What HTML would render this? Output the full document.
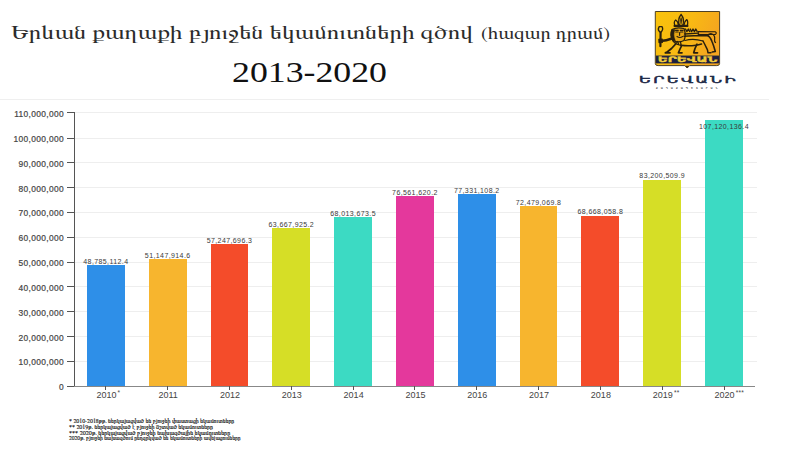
<!DOCTYPE html>
<html><head><meta charset="utf-8"><title>Երևան բյուջե 2013-2020</title>
<style>
html,body{margin:0;padding:0;background:#fff;width:786px;height:458px;overflow:hidden}
body{position:relative;font-family:"Liberation Sans",Arial,sans-serif;color:#333}
.a{position:absolute;white-space:nowrap}
.t{font-family:"FreeSerif","DejaVu Serif",serif;color:#2b2b2b;transform-origin:0 0}
.g{position:absolute;height:1px;background:#eeeeee}
.yl{position:absolute;right:0;width:60px;text-align:right;font-size:8.4px;color:#444;line-height:10px;letter-spacing:.35px;-webkit-text-stroke:.2px #444}
.tk{position:absolute;background:#555}
.bar{position:absolute}
.vl{position:absolute;width:80px;text-align:center;font-size:7px;color:#3a3a3a;line-height:8px;letter-spacing:.4px}
.xl{position:absolute;width:60px;text-align:center;font-size:9px;color:#444;line-height:10px}
.xl sup{font-size:6.5px;position:absolute;top:0px;line-height:6px;margin-left:1.2px;letter-spacing:.3px}
.fn{position:absolute;left:68.5px;font-size:6px;line-height:7px;color:#111;-webkit-text-stroke:.15px #111;white-space:nowrap;font-family:"FreeSerif","DejaVu Serif",serif;transform-origin:0 0}
</style></head><body>

<div class="a t" id="t1" style="left:10.8px;top:22.5px;font-size:18.5px;line-height:22px;transform:scaleX(1.345)">Երևան քաղաքի բյուջեն եկամուտների գծով</div>
<div class="a t" id="t2" style="left:481.1px;top:25.3px;font-size:16.5px;line-height:18px;transform:scaleX(1.235)">(հազար դրամ)</div>
<div class="a" id="t3" style="left:232.2px;top:57px;font-family:'Liberation Serif',serif;font-size:28.5px;line-height:32px;color:#111;transform-origin:0 0;transform:scaleX(1.255)">2013-2020</div>
<div class="g" style="left:0;top:99px;width:769px;background:#efefef"></div>
<div class="tk" style="left:67.4px;top:385.80px;width:7px;height:1px"></div>
<div class="yl" style="left:4px;top:382.30px">0</div>
<div class="g" style="left:74.2px;top:360.97px;width:682.8px"></div>
<div class="tk" style="left:67.4px;top:360.97px;width:7px;height:1px"></div>
<div class="yl" style="left:4px;top:357.47px">10,000,000</div>
<div class="g" style="left:74.2px;top:336.14px;width:682.8px"></div>
<div class="tk" style="left:67.4px;top:336.14px;width:7px;height:1px"></div>
<div class="yl" style="left:4px;top:332.64px">20,000,000</div>
<div class="g" style="left:74.2px;top:311.31px;width:682.8px"></div>
<div class="tk" style="left:67.4px;top:311.31px;width:7px;height:1px"></div>
<div class="yl" style="left:4px;top:307.81px">30,000,000</div>
<div class="g" style="left:74.2px;top:286.48px;width:682.8px"></div>
<div class="tk" style="left:67.4px;top:286.48px;width:7px;height:1px"></div>
<div class="yl" style="left:4px;top:282.98px">40,000,000</div>
<div class="g" style="left:74.2px;top:261.65px;width:682.8px"></div>
<div class="tk" style="left:67.4px;top:261.65px;width:7px;height:1px"></div>
<div class="yl" style="left:4px;top:258.15px">50,000,000</div>
<div class="g" style="left:74.2px;top:236.82px;width:682.8px"></div>
<div class="tk" style="left:67.4px;top:236.82px;width:7px;height:1px"></div>
<div class="yl" style="left:4px;top:233.32px">60,000,000</div>
<div class="g" style="left:74.2px;top:211.99px;width:682.8px"></div>
<div class="tk" style="left:67.4px;top:211.99px;width:7px;height:1px"></div>
<div class="yl" style="left:4px;top:208.49px">70,000,000</div>
<div class="g" style="left:74.2px;top:187.16px;width:682.8px"></div>
<div class="tk" style="left:67.4px;top:187.16px;width:7px;height:1px"></div>
<div class="yl" style="left:4px;top:183.66px">80,000,000</div>
<div class="g" style="left:74.2px;top:162.33px;width:682.8px"></div>
<div class="tk" style="left:67.4px;top:162.33px;width:7px;height:1px"></div>
<div class="yl" style="left:4px;top:158.83px">90,000,000</div>
<div class="g" style="left:74.2px;top:137.50px;width:682.8px"></div>
<div class="tk" style="left:67.4px;top:137.50px;width:7px;height:1px"></div>
<div class="yl" style="left:4px;top:134.00px">100,000,000</div>
<div class="g" style="left:74.2px;top:112.10px;width:682.8px"></div>
<div class="tk" style="left:67.4px;top:112.10px;width:7px;height:1px"></div>
<div class="yl" style="left:4px;top:108.60px">110,000,000</div>
<div class="tk" style="left:73.7px;top:112.1px;width:1px;height:274.7px"></div>
<div class="tk" style="left:74.2px;top:385.80px;width:680.5px;height:1px;background:#888"></div>
<div class="bar" style="left:87.00px;top:265.17px;width:37.8px;height:121.13px;background:#2e8fe8"></div>
<div class="vl" style="left:65.90px;top:257.67px">48,785,112.4</div>
<div class="tk" style="left:105.40px;top:386.30px;width:1px;height:4px"></div>
<div class="xl" style="left:76.40px;top:389.60px">2010<sup>*</sup></div>
<div class="bar" style="left:148.81px;top:259.30px;width:37.8px;height:127.00px;background:#f7b52e"></div>
<div class="vl" style="left:127.71px;top:251.80px">51,147,914.6</div>
<div class="tk" style="left:167.21px;top:386.30px;width:1px;height:4px"></div>
<div class="xl" style="left:138.21px;top:389.60px">2011</div>
<div class="bar" style="left:210.62px;top:244.15px;width:37.8px;height:142.15px;background:#f44c2a"></div>
<div class="vl" style="left:189.52px;top:236.65px">57,247,696.3</div>
<div class="tk" style="left:229.02px;top:386.30px;width:1px;height:4px"></div>
<div class="xl" style="left:200.02px;top:389.60px">2012</div>
<div class="bar" style="left:272.43px;top:228.21px;width:37.8px;height:158.09px;background:#d6de26"></div>
<div class="vl" style="left:251.33px;top:220.71px">63,667,925.2</div>
<div class="tk" style="left:290.83px;top:386.30px;width:1px;height:4px"></div>
<div class="xl" style="left:261.83px;top:389.60px">2013</div>
<div class="bar" style="left:334.24px;top:217.42px;width:37.8px;height:168.88px;background:#3cdac3"></div>
<div class="vl" style="left:313.14px;top:209.92px">68,013,673.5</div>
<div class="tk" style="left:352.64px;top:386.30px;width:1px;height:4px"></div>
<div class="xl" style="left:323.64px;top:389.60px">2014</div>
<div class="bar" style="left:396.05px;top:196.20px;width:37.8px;height:190.10px;background:#e4389c"></div>
<div class="vl" style="left:374.95px;top:188.70px">76,561,620.2</div>
<div class="tk" style="left:414.45px;top:386.30px;width:1px;height:4px"></div>
<div class="xl" style="left:385.45px;top:389.60px">2015</div>
<div class="bar" style="left:457.86px;top:194.29px;width:37.8px;height:192.01px;background:#2e8fe8"></div>
<div class="vl" style="left:436.76px;top:186.79px">77,331,108.2</div>
<div class="tk" style="left:476.26px;top:386.30px;width:1px;height:4px"></div>
<div class="xl" style="left:447.26px;top:389.60px">2016</div>
<div class="bar" style="left:519.67px;top:206.33px;width:37.8px;height:179.97px;background:#f7b52e"></div>
<div class="vl" style="left:498.57px;top:198.83px">72,479,069.8</div>
<div class="tk" style="left:538.07px;top:386.30px;width:1px;height:4px"></div>
<div class="xl" style="left:509.07px;top:389.60px">2017</div>
<div class="bar" style="left:581.48px;top:215.80px;width:37.8px;height:170.50px;background:#f44c2a"></div>
<div class="vl" style="left:560.38px;top:208.30px">68,668,058.8</div>
<div class="tk" style="left:599.88px;top:386.30px;width:1px;height:4px"></div>
<div class="xl" style="left:570.88px;top:389.60px">2018</div>
<div class="bar" style="left:643.29px;top:179.71px;width:37.8px;height:206.59px;background:#d6de26"></div>
<div class="vl" style="left:622.19px;top:172.21px">83,200,509.9</div>
<div class="tk" style="left:661.69px;top:386.30px;width:1px;height:4px"></div>
<div class="xl" style="left:632.69px;top:389.60px">2019<sup>**</sup></div>
<div class="bar" style="left:705.10px;top:120.32px;width:37.8px;height:265.98px;background:#3cdac3"></div>
<div class="vl" style="left:684.00px;top:123.32px">107,120,136.4</div>
<div class="tk" style="left:723.50px;top:386.30px;width:1px;height:4px"></div>
<div class="xl" style="left:694.50px;top:389.60px">2020<sup>***</sup></div>
<div class="fn" id="fn0" style="top:418.2px;transform:scaleX(0.977)">* 2010-2018թթ. ներկայացված են բյուջեի փաստացի եկամուտները</div>
<div class="fn" id="fn1" style="top:424.2px;transform:scaleX(0.988)">** 2019թ. ներկայացված է բյուջեի ճշտված եկամուտները</div>
<div class="fn" id="fn2" style="top:429.8px;transform:scaleX(1.017)">*** 2020թ. ներկայացված  բյուջեի նախագծային եկամուտները</div>
<div class="fn" id="fn3" style="top:435.1px;transform:scaleX(0.927)">2020թ. բյուջեի նախագծում ընդգրկված են եկամուտների ավելացումները</div>
<svg class="a" style="left:650px;top:5px" width="75" height="70" viewBox="0 0 75 70">
<defs><linearGradient id="gy" x1="0" y1="0" x2="1" y2="0.35"><stop offset="0" stop-color="#f9c30c"/><stop offset="0.55" stop-color="#f8b913"/><stop offset="1" stop-color="#f5a520"/></linearGradient></defs>
<path d="M5.3,6.5 H69.6 V58.5 Q69.6,60.6 66.8,60.6 H39.6 L37.2,63 L34.8,60.6 H8.1 Q5.3,60.6 5.3,58.5 Z" fill="url(#gy)" stroke="#4e4126" stroke-width="1"/>
<path d="M35.2,60.8 L37.2,63.2 L39.2,60.8 Z" fill="#3a2e18"/>
<rect x="5.9" y="50.8" width="63.1" height="7.6" fill="#1d2140"/>
<path d="M5.8,50.6 H69.1" stroke="#6b5a30" stroke-width="0.6"/>
<text x="37.6" y="57.4" text-anchor="middle" font-family="'DejaVu Sans',sans-serif" font-weight="bold" font-size="7.6" fill="#f2cd3a" stroke="#f2cd3a" stroke-width="0.3" textLength="59.5" lengthAdjust="spacingAndGlyphs">ԵՐԵՎԱՆ</text>
<g fill="none" stroke="#2a200e" stroke-linecap="round" stroke-linejoin="round">
<path d="M25,21 C24,18.5 24.5,15.8 25.7,15 C27.5,16 28.2,18 28.3,20 M31.1,9.5 C28.6,12.5 28,16.5 29.6,20.5 M31.1,9.5 C33.6,12.5 34.2,16.5 32.6,20.5 M37.2,21 C38.2,18.5 37.7,15.3 36.7,14.6 C34.8,15.8 34.2,18 34,20" stroke-width="1.26"/>
<path d="M30.1,15 L31.1,12.5 L32.1,15 L31.1,19 Z" fill="#3a2c12" stroke-width="0.46"/>
<path d="M24.6,20.9 H37.4" stroke-width="2.18"/>
<path d="M22,24.5 C20.8,28 21,32 23,35.5 C26,37.5 31,37.2 34,35.5 C35.5,32 35.5,27.5 34,23.5 C30,22.5 25,22.8 22,24.5 Z" fill="#e6a514" stroke-width="1.26"/>
<path d="M21.8,24.8 C20,28.5 20.2,32.5 22.8,36 L25,34.8 C23.5,31.5 23.5,28 24.8,25 Z" fill="#2a200e" stroke-width="0.57"/>
<path d="M25.5,25.3 h2.8 M30.3,25.3 h2.8 M25.8,27 h2.4 M30.5,27 h2.4 M27,31.5 q2.8,2 5.6,0 M29.6,27.5 v2.8" stroke-width="1.15"/>
<path d="M35.5,24 l1.4,2.6 l1.4,-2.6 l1.4,2.6 M40.2,24 l1.4,2.6 l1.4,-2.6 l1.4,2.6 l1.4,-2.6 l1.4,2.6" stroke-width="1.32"/>
<path d="M48.2,26.4 L65.2,26.8 Q67.4,28 65.2,29.6 L48.2,29.6 Z" fill="#ed9e1d" stroke-width="1.03"/>
<path d="M34.5,29 L48.5,28.2" stroke-width="1.26"/>
<path d="M10.6,27 L10.4,41.2" stroke-width="2.18"/>
<path d="M9.2,21.6 C8,23.5 8.4,26 10.5,27.4 C12.8,26 13.2,23.5 12,21.6 Z" fill="#f7c61a" stroke-width="1.38"/>
<path d="M22,33.5 C18,35 14,35.8 10.8,36" stroke-width="2.42"/>
<path d="M8.8,34.2 l3.4,-0.3 l0.2,3.6 l-3.4,0.3 z" fill="#2a200e" stroke-width="1.03"/>
<path d="M23,36 C25,39 28,40 31,40.3 M24.5,35 l2,3 M27.5,36.5 l1.2,2.8 M30.5,37 l0.6,2.8" stroke-width="1.26"/>
<path d="M34,31.2 C42,30.5 51,30.5 57.5,30.5 C60,31.5 61,34 62,36.5 C63.5,40 64.5,43.5 65.3,46.5 L62.3,47" stroke-width="1.61"/>
<path d="M31,40.3 C36,41 42,40.8 46,40.2 C48.5,39.8 50,39.4 51.5,39" stroke-width="1.61"/>
<path d="M35,35.5 C40,34 47,34.2 53,36" stroke-width="1.15"/>
<path d="M25.2,39.5 L21.5,43.5 L17.5,46.8 L15.4,47.8 L20,47.8" stroke-width="1.84"/>
<path d="M31.5,40.8 L29.8,44.5 L28.4,47.8 L32,47.8" stroke-width="1.72"/>
<path d="M47,39.2 L45,43.5 L43.7,47.8 L47.5,47.8" stroke-width="1.72"/>
<path d="M53,36 C55,39.5 56.5,43 57.5,45 L58,47.8 L61,47.8" stroke-width="1.49"/>
<path d="M57.5,30.5 C60,27.5 63.5,28.5 64.5,31.5 C65.3,34 63.5,36.5 65.5,37.5" stroke-width="1.26"/>
</g>
</svg>
<div class="a" id="ev" style="left:639.3px;top:74px;font-family:'DejaVu Sans',sans-serif;font-size:9px;line-height:12px;color:#1b2745;letter-spacing:1.3px;transform-origin:0 0;transform:scaleX(1.8);-webkit-text-stroke:0.45px #1b2745">ԵՐԵՎԱՆԻ</div>
<div class="a" id="qp" style="left:656px;top:86.5px;font-family:'DejaVu Sans',sans-serif;font-weight:bold;font-size:2.6px;line-height:3px;color:#555;letter-spacing:3px">ՔԱՂԱՔԱՊԵՏԱՐԱՆ</div>

<script>(function(){var W={t1:462,t2:129.1,fn0:165.3,fn1:143.9,fn2:161.2,fn3:171.6};for(var k in W){var e=document.getElementById(k);if(!e)continue;var o=e.style.transform;e.style.transform="none";var w=e.getBoundingClientRect().width;e.style.transform=(w>0)?"scaleX("+(W[k]/w)+")":o;}})();</script>
</body></html>
